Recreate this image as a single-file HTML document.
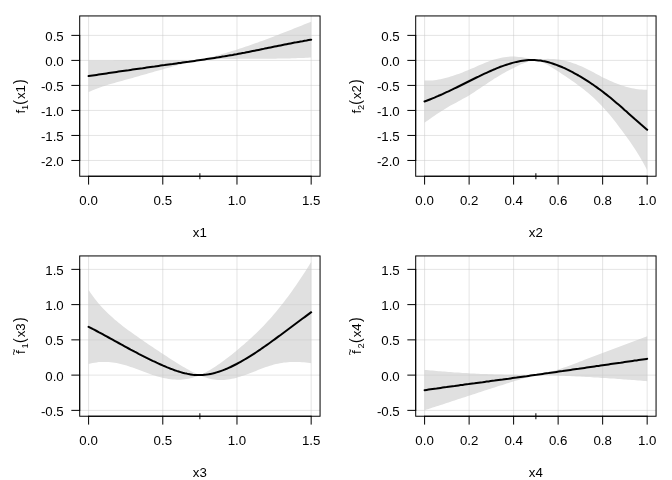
<!DOCTYPE html>
<html><head><meta charset="utf-8"><title>plot</title>
<style>html,body{margin:0;padding:0;background:#fff}svg{display:block}</style></head>
<body>
<svg width="672" height="480" viewBox="0 0 672 480" font-family="'Liberation Sans', Arial, Helvetica, sans-serif" font-size="13.28px" fill="#000">
<rect width="672" height="480" fill="#fff"/>
<path d="M88.6 60.4 L90.6 60.4 L92.6 60.4 L94.6 60.4 L96.6 60.4 L98.6 60.4 L100.6 60.4 L102.6 60.4 L104.6 60.4 L106.6 60.4 L108.6 60.4 L110.6 60.4 L112.6 60.4 L114.6 60.3 L116.6 60.3 L118.6 60.3 L120.6 60.3 L122.6 60.3 L124.6 60.3 L126.6 60.3 L128.6 60.3 L130.6 60.3 L132.6 60.3 L134.6 60.3 L136.6 60.3 L138.6 60.3 L140.6 60.3 L142.6 60.3 L144.6 60.3 L146.6 60.3 L148.6 60.3 L150.6 60.3 L152.6 60.3 L154.6 60.3 L156.6 60.3 L158.6 60.3 L160.6 60.3 L162.6 60.3 L164.6 60.3 L166.6 60.3 L168.6 60.3 L170.6 60.3 L172.6 60.3 L174.6 60.3 L176.6 60.3 L178.6 60.3 L180.6 60.3 L182.6 60.3 L184.6 60.3 L186.6 60.3 L188.6 60.2 L190.6 60.2 L192.6 60.2 L194.6 60.2 L196.6 60.2 L198.6 60.2 L199.9 60.1 L201.9 59.6 L203.9 59.1 L205.9 58.6 L207.9 58.0 L209.9 57.5 L211.9 56.9 L213.9 56.4 L215.9 55.8 L217.9 55.3 L219.9 54.7 L221.9 54.1 L223.9 53.5 L225.9 52.9 L227.9 52.3 L229.9 51.7 L231.9 51.1 L233.9 50.5 L235.9 49.9 L237.9 49.2 L239.9 48.6 L241.9 47.9 L243.9 47.3 L245.9 46.6 L247.9 45.9 L249.9 45.2 L251.9 44.5 L253.9 43.8 L255.9 43.1 L257.9 42.4 L259.9 41.6 L261.9 40.9 L263.9 40.2 L265.9 39.4 L267.9 38.7 L269.9 37.9 L271.9 37.2 L273.9 36.4 L275.9 35.6 L277.9 34.9 L279.9 34.1 L281.9 33.3 L283.9 32.5 L285.9 31.7 L287.9 31.0 L289.9 30.2 L291.9 29.4 L293.9 28.6 L295.9 27.8 L297.9 27.0 L299.9 26.2 L301.9 25.4 L303.9 24.6 L305.9 23.8 L307.9 23.0 L309.9 22.2 L311.2 21.7 L311.2 57.5 L309.9 57.5 L307.9 57.7 L305.9 57.8 L303.9 57.9 L301.9 58.0 L299.9 58.0 L297.9 58.1 L295.9 58.2 L293.9 58.3 L291.9 58.3 L289.9 58.4 L287.9 58.4 L285.9 58.5 L283.9 58.5 L281.9 58.6 L279.9 58.6 L277.9 58.6 L275.9 58.7 L273.9 58.7 L271.9 58.7 L269.9 58.7 L267.9 58.7 L265.9 58.8 L263.9 58.8 L261.9 58.8 L259.9 58.8 L257.9 58.8 L255.9 58.8 L253.9 58.8 L251.9 58.8 L249.9 58.8 L247.9 58.8 L245.9 58.8 L243.9 58.8 L241.9 58.8 L239.9 58.8 L237.9 58.8 L235.9 58.9 L233.9 58.9 L231.9 58.9 L229.9 58.9 L227.9 58.9 L225.9 58.9 L223.9 59.0 L221.9 59.0 L219.9 59.1 L217.9 59.1 L215.9 59.2 L213.9 59.3 L211.9 59.3 L209.9 59.4 L207.9 59.6 L205.9 59.7 L203.9 59.8 L201.9 60.0 L199.9 60.1 L198.6 60.4 L196.6 60.8 L194.6 61.3 L192.6 61.7 L190.6 62.1 L188.6 62.6 L186.6 63.1 L184.6 63.6 L182.6 64.1 L180.6 64.6 L178.6 65.1 L176.6 65.6 L174.6 66.1 L172.6 66.6 L170.6 67.2 L168.6 67.7 L166.6 68.3 L164.6 68.8 L162.6 69.4 L160.6 69.9 L158.6 70.5 L156.6 71.1 L154.6 71.6 L152.6 72.2 L150.6 72.8 L148.6 73.3 L146.6 73.9 L144.6 74.5 L142.6 75.1 L140.6 75.6 L138.6 76.2 L136.6 76.8 L134.6 77.3 L132.6 77.9 L130.6 78.5 L128.6 79.0 L126.6 79.6 L124.6 80.1 L122.6 80.7 L120.6 81.2 L118.6 81.8 L116.6 82.3 L114.6 82.9 L112.6 83.4 L110.6 84.0 L108.6 84.6 L106.6 85.2 L104.6 85.9 L102.6 86.5 L100.6 87.2 L98.6 88.0 L96.6 88.7 L94.6 89.5 L92.6 90.3 L90.6 91.2 L88.6 92.1Z" fill="#e0e0e0" stroke="none"/>
<g stroke="#c8c8c8" stroke-width="0.5" fill="none"><line x1="88.60" y1="15.94" x2="88.60" y2="176.24"/><line x1="162.79" y1="15.94" x2="162.79" y2="176.24"/><line x1="236.97" y1="15.94" x2="236.97" y2="176.24"/><line x1="311.16" y1="15.94" x2="311.16" y2="176.24"/><line x1="79.70" y1="35.38" x2="320.06" y2="35.38"/><line x1="79.70" y1="60.40" x2="320.06" y2="60.40"/><line x1="79.70" y1="85.41" x2="320.06" y2="85.41"/><line x1="79.70" y1="110.43" x2="320.06" y2="110.43"/><line x1="79.70" y1="135.44" x2="320.06" y2="135.44"/><line x1="79.70" y1="160.46" x2="320.06" y2="160.46"/></g>
<path d="M88.6 76.1 L90.6 75.8 L92.6 75.5 L94.6 75.2 L96.6 74.9 L98.6 74.6 L100.6 74.3 L102.6 74.0 L104.6 73.7 L106.6 73.4 L108.6 73.1 L110.6 72.8 L112.6 72.5 L114.6 72.2 L116.6 71.9 L118.6 71.6 L120.6 71.3 L122.6 71.0 L124.6 70.7 L126.6 70.4 L128.6 70.2 L130.6 69.9 L132.6 69.6 L134.6 69.3 L136.6 69.0 L138.6 68.7 L140.6 68.4 L142.6 68.2 L144.6 67.9 L146.6 67.6 L148.6 67.3 L150.6 67.0 L152.6 66.7 L154.6 66.5 L156.6 66.2 L158.6 65.9 L160.6 65.6 L162.6 65.3 L164.6 65.1 L166.6 64.8 L168.6 64.5 L170.6 64.2 L172.6 64.0 L174.6 63.7 L176.6 63.4 L178.6 63.1 L180.6 62.9 L182.6 62.6 L184.6 62.3 L186.6 62.0 L188.6 61.8 L190.6 61.5 L192.6 61.2 L194.6 60.9 L196.6 60.6 L198.6 60.3 L200.6 60.0 L202.6 59.7 L204.6 59.4 L206.6 59.1 L208.6 58.8 L210.6 58.5 L212.6 58.2 L214.6 57.9 L216.6 57.6 L218.6 57.3 L220.6 56.9 L222.6 56.6 L224.6 56.3 L226.6 55.9 L228.6 55.6 L230.6 55.2 L232.6 54.9 L234.6 54.5 L236.6 54.2 L238.6 53.8 L240.6 53.4 L242.6 53.0 L244.6 52.7 L246.6 52.3 L248.6 51.9 L250.6 51.5 L252.6 51.1 L254.6 50.7 L256.6 50.3 L258.6 49.9 L260.6 49.5 L262.6 49.1 L264.6 48.6 L266.6 48.2 L268.6 47.8 L270.6 47.4 L272.6 47.0 L274.6 46.6 L276.6 46.2 L278.6 45.8 L280.6 45.4 L282.6 45.0 L284.6 44.6 L286.6 44.2 L288.6 43.8 L290.6 43.4 L292.6 43.0 L294.6 42.6 L296.6 42.3 L298.6 41.9 L300.6 41.5 L302.6 41.2 L304.6 40.8 L306.6 40.5 L308.6 40.1 L310.6 39.8 L311.2 39.7" fill="none" stroke="#000" stroke-width="2" stroke-linecap="round" stroke-linejoin="round"/>
<line x1="199.88" y1="173.24" x2="199.88" y2="179.24" stroke="#000" stroke-width="1"/>
<rect x="79.70" y="15.94" width="240.36" height="160.30" fill="none" stroke="#000" stroke-width="1"/>
<g stroke="#000" stroke-width="1" fill="none" stroke-linecap="round"><line x1="88.60" y1="176.24" x2="311.16" y2="176.24"/><line x1="88.60" y1="176.24" x2="88.60" y2="184.21"/><line x1="162.79" y1="176.24" x2="162.79" y2="184.21"/><line x1="236.97" y1="176.24" x2="236.97" y2="184.21"/><line x1="311.16" y1="176.24" x2="311.16" y2="184.21"/><line x1="79.70" y1="35.38" x2="79.70" y2="160.46"/><line x1="79.70" y1="35.38" x2="71.73" y2="35.38"/><line x1="79.70" y1="60.40" x2="71.73" y2="60.40"/><line x1="79.70" y1="85.41" x2="71.73" y2="85.41"/><line x1="79.70" y1="110.43" x2="71.73" y2="110.43"/><line x1="79.70" y1="135.44" x2="71.73" y2="135.44"/><line x1="79.70" y1="160.46" x2="71.73" y2="160.46"/></g>
<text x="88.60" y="204.93" text-anchor="middle">0.0</text>
<text x="162.79" y="204.93" text-anchor="middle">0.5</text>
<text x="236.97" y="204.93" text-anchor="middle">1.0</text>
<text x="311.16" y="204.93" text-anchor="middle">1.5</text>
<text x="63.76" y="40.84" text-anchor="end">0.5</text>
<text x="63.76" y="65.85" text-anchor="end">0.0</text>
<text x="63.76" y="90.86" text-anchor="end">-0.5</text>
<text x="63.76" y="115.88" text-anchor="end">-1.0</text>
<text x="63.76" y="140.89" text-anchor="end">-1.5</text>
<text x="63.76" y="165.91" text-anchor="end">-2.0</text>
<text x="199.88" y="236.81" text-anchor="middle">x1</text>
<g transform="translate(25.30 113.49) rotate(-90)"><text x="-0.10" y="0">f</text><text x="3.60" y="2.5" font-size="9.30px">1</text><text transform="translate(8.80 0) scale(0.85 1)" font-size="16.5px">(</text><text x="14.40" y="0">x1</text><text transform="translate(29.60 0) scale(0.85 1)" font-size="16.5px">)</text></g>
<path d="M424.5 80.4 L426.5 80.5 L428.5 80.6 L430.5 80.5 L432.5 80.4 L434.5 80.2 L436.5 79.9 L438.5 79.6 L440.5 79.2 L442.5 78.7 L444.5 78.2 L446.5 77.7 L448.5 77.2 L450.5 76.6 L452.5 75.9 L454.5 75.3 L456.5 74.6 L458.5 73.9 L460.5 73.2 L462.5 72.4 L464.5 71.6 L466.5 70.8 L468.5 70.0 L470.5 69.1 L472.5 68.3 L474.5 67.4 L476.5 66.5 L478.5 65.6 L480.5 64.8 L482.5 63.9 L484.5 63.1 L486.5 62.3 L488.5 61.5 L490.5 60.8 L492.5 60.1 L494.5 59.5 L496.5 59.0 L498.5 58.4 L500.5 58.0 L502.5 57.6 L504.5 57.3 L506.5 57.0 L508.5 56.8 L510.5 56.6 L512.5 56.6 L514.5 56.6 L516.5 56.7 L518.5 56.9 L520.5 57.1 L522.5 57.3 L524.5 57.7 L526.5 58.0 L528.5 58.4 L530.5 58.9 L532.5 59.3 L534.5 59.8 L535.9 60.2 L537.9 59.8 L539.9 59.4 L541.9 59.2 L543.9 59.0 L545.9 58.9 L547.9 58.8 L549.9 58.9 L551.9 58.9 L553.9 59.1 L555.9 59.3 L557.9 59.5 L559.9 59.8 L561.9 60.2 L563.9 60.6 L565.9 61.0 L567.9 61.5 L569.9 62.1 L571.9 62.7 L573.9 63.4 L575.9 64.1 L577.9 64.9 L579.9 65.7 L581.9 66.6 L583.9 67.5 L585.9 68.5 L587.9 69.5 L589.9 70.5 L591.9 71.6 L593.9 72.6 L595.9 73.7 L597.9 74.8 L599.9 75.8 L601.9 76.9 L603.9 77.9 L605.9 78.8 L607.9 79.8 L609.9 80.7 L611.9 81.6 L613.9 82.4 L615.9 83.2 L617.9 84.0 L619.9 84.7 L621.9 85.4 L623.9 86.1 L625.9 86.7 L627.9 87.2 L629.9 87.7 L631.9 88.2 L633.9 88.6 L635.9 88.9 L637.9 89.2 L639.9 89.4 L641.9 89.6 L643.9 89.7 L645.9 89.8 L647.2 89.8 L647.2 170.4 L645.9 167.8 L643.9 164.1 L641.9 160.5 L639.9 157.0 L637.9 153.7 L635.9 150.6 L633.9 147.5 L631.9 144.5 L629.9 141.6 L627.9 138.8 L625.9 136.0 L623.9 133.3 L621.9 130.5 L619.9 127.9 L617.9 125.2 L615.9 122.6 L613.9 120.0 L611.9 117.5 L609.9 115.1 L607.9 112.7 L605.9 110.4 L603.9 108.2 L601.9 106.0 L599.9 104.0 L597.9 101.9 L595.9 100.0 L593.9 98.1 L591.9 96.3 L589.9 94.5 L587.9 92.8 L585.9 91.2 L583.9 89.5 L581.9 88.0 L579.9 86.5 L577.9 85.0 L575.9 83.5 L573.9 82.1 L571.9 80.7 L569.9 79.3 L567.9 77.9 L565.9 76.6 L563.9 75.3 L561.9 73.9 L559.9 72.6 L557.9 71.3 L555.9 70.0 L553.9 68.7 L551.9 67.5 L549.9 66.3 L547.9 65.1 L545.9 64.1 L543.9 63.1 L541.9 62.2 L539.9 61.4 L537.9 60.7 L535.9 60.2 L534.5 60.3 L532.5 60.7 L530.5 61.1 L528.5 61.6 L526.5 62.3 L524.5 63.0 L522.5 63.7 L520.5 64.6 L518.5 65.5 L516.5 66.4 L514.5 67.4 L512.5 68.4 L510.5 69.4 L508.5 70.5 L506.5 71.5 L504.5 72.7 L502.5 73.8 L500.5 75.0 L498.5 76.2 L496.5 77.4 L494.5 78.6 L492.5 79.9 L490.5 81.2 L488.5 82.5 L486.5 83.9 L484.5 85.2 L482.5 86.6 L480.5 87.9 L478.5 89.3 L476.5 90.6 L474.5 91.9 L472.5 93.2 L470.5 94.5 L468.5 95.7 L466.5 96.9 L464.5 98.0 L462.5 99.1 L460.5 100.2 L458.5 101.3 L456.5 102.4 L454.5 103.4 L452.5 104.5 L450.5 105.6 L448.5 106.8 L446.5 107.9 L444.5 109.2 L442.5 110.4 L440.5 111.7 L438.5 113.0 L436.5 114.3 L434.5 115.7 L432.5 117.1 L430.5 118.5 L428.5 119.9 L426.5 121.3 L424.5 122.7Z" fill="#e0e0e0" stroke="none"/>
<g stroke="#c8c8c8" stroke-width="0.5" fill="none"><line x1="424.60" y1="15.94" x2="424.60" y2="176.24"/><line x1="469.11" y1="15.94" x2="469.11" y2="176.24"/><line x1="513.62" y1="15.94" x2="513.62" y2="176.24"/><line x1="558.14" y1="15.94" x2="558.14" y2="176.24"/><line x1="602.65" y1="15.94" x2="602.65" y2="176.24"/><line x1="647.16" y1="15.94" x2="647.16" y2="176.24"/><line x1="415.70" y1="35.38" x2="656.06" y2="35.38"/><line x1="415.70" y1="60.40" x2="656.06" y2="60.40"/><line x1="415.70" y1="85.41" x2="656.06" y2="85.41"/><line x1="415.70" y1="110.43" x2="656.06" y2="110.43"/><line x1="415.70" y1="135.44" x2="656.06" y2="135.44"/><line x1="415.70" y1="160.46" x2="656.06" y2="160.46"/></g>
<path d="M424.5 101.5 L426.5 100.8 L428.5 100.0 L430.5 99.2 L432.5 98.4 L434.5 97.6 L436.5 96.7 L438.5 95.8 L440.5 95.0 L442.5 94.1 L444.5 93.1 L446.5 92.2 L448.5 91.3 L450.5 90.3 L452.5 89.4 L454.5 88.4 L456.5 87.5 L458.5 86.5 L460.5 85.5 L462.5 84.5 L464.5 83.5 L466.5 82.5 L468.5 81.5 L470.5 80.5 L472.5 79.5 L474.5 78.5 L476.5 77.5 L478.5 76.6 L480.5 75.6 L482.5 74.6 L484.5 73.7 L486.5 72.8 L488.5 71.9 L490.5 71.0 L492.5 70.1 L494.5 69.3 L496.5 68.4 L498.5 67.6 L500.5 66.8 L502.5 66.1 L504.5 65.4 L506.5 64.7 L508.5 64.1 L510.5 63.5 L512.5 62.9 L514.5 62.4 L516.5 61.9 L518.5 61.5 L520.5 61.1 L522.5 60.8 L524.5 60.5 L526.5 60.3 L528.5 60.1 L530.5 60.1 L532.5 60.0 L534.5 60.1 L536.5 60.2 L538.5 60.4 L540.5 60.6 L542.5 61.0 L544.5 61.3 L546.5 61.8 L548.5 62.3 L550.5 62.9 L552.5 63.5 L554.5 64.2 L556.5 64.9 L558.5 65.7 L560.5 66.5 L562.5 67.3 L564.5 68.2 L566.5 69.2 L568.5 70.1 L570.5 71.2 L572.5 72.2 L574.5 73.3 L576.5 74.4 L578.5 75.5 L580.5 76.7 L582.5 77.9 L584.5 79.1 L586.5 80.4 L588.5 81.7 L590.5 83.0 L592.5 84.3 L594.5 85.7 L596.5 87.1 L598.5 88.6 L600.5 90.0 L602.5 91.5 L604.5 93.1 L606.5 94.6 L608.5 96.2 L610.5 97.8 L612.5 99.5 L614.5 101.2 L616.5 102.9 L618.5 104.6 L620.5 106.3 L622.5 108.1 L624.5 109.9 L626.5 111.6 L628.5 113.4 L630.5 115.2 L632.5 117.0 L634.5 118.8 L636.5 120.5 L638.5 122.3 L640.5 124.1 L642.5 125.8 L644.5 127.5 L646.5 129.2 L647.2 129.8" fill="none" stroke="#000" stroke-width="2" stroke-linecap="round" stroke-linejoin="round"/>
<line x1="535.88" y1="173.24" x2="535.88" y2="179.24" stroke="#000" stroke-width="1"/>
<rect x="415.70" y="15.94" width="240.36" height="160.30" fill="none" stroke="#000" stroke-width="1"/>
<g stroke="#000" stroke-width="1" fill="none" stroke-linecap="round"><line x1="424.60" y1="176.24" x2="647.16" y2="176.24"/><line x1="424.60" y1="176.24" x2="424.60" y2="184.21"/><line x1="469.11" y1="176.24" x2="469.11" y2="184.21"/><line x1="513.62" y1="176.24" x2="513.62" y2="184.21"/><line x1="558.14" y1="176.24" x2="558.14" y2="184.21"/><line x1="602.65" y1="176.24" x2="602.65" y2="184.21"/><line x1="647.16" y1="176.24" x2="647.16" y2="184.21"/><line x1="415.70" y1="35.38" x2="415.70" y2="160.46"/><line x1="415.70" y1="35.38" x2="407.73" y2="35.38"/><line x1="415.70" y1="60.40" x2="407.73" y2="60.40"/><line x1="415.70" y1="85.41" x2="407.73" y2="85.41"/><line x1="415.70" y1="110.43" x2="407.73" y2="110.43"/><line x1="415.70" y1="135.44" x2="407.73" y2="135.44"/><line x1="415.70" y1="160.46" x2="407.73" y2="160.46"/></g>
<text x="424.60" y="204.93" text-anchor="middle">0.0</text>
<text x="469.11" y="204.93" text-anchor="middle">0.2</text>
<text x="513.62" y="204.93" text-anchor="middle">0.4</text>
<text x="558.14" y="204.93" text-anchor="middle">0.6</text>
<text x="602.65" y="204.93" text-anchor="middle">0.8</text>
<text x="647.16" y="204.93" text-anchor="middle">1.0</text>
<text x="399.76" y="40.84" text-anchor="end">0.5</text>
<text x="399.76" y="65.85" text-anchor="end">0.0</text>
<text x="399.76" y="90.86" text-anchor="end">-0.5</text>
<text x="399.76" y="115.88" text-anchor="end">-1.0</text>
<text x="399.76" y="140.89" text-anchor="end">-1.5</text>
<text x="399.76" y="165.91" text-anchor="end">-2.0</text>
<text x="535.88" y="236.81" text-anchor="middle">x2</text>
<g transform="translate(361.30 113.49) rotate(-90)"><text x="-0.10" y="0">f</text><text x="3.60" y="2.5" font-size="9.30px">2</text><text transform="translate(8.80 0) scale(0.85 1)" font-size="16.5px">(</text><text x="14.40" y="0">x2</text><text transform="translate(29.60 0) scale(0.85 1)" font-size="16.5px">)</text></g>
<path d="M88.6 290.1 L90.6 293.0 L92.6 295.8 L94.6 298.4 L96.6 301.0 L98.6 303.4 L100.6 305.7 L102.6 307.9 L104.6 310.0 L106.6 312.0 L108.6 314.0 L110.6 315.8 L112.6 317.6 L114.6 319.4 L116.6 321.1 L118.6 322.7 L120.6 324.3 L122.6 325.9 L124.6 327.4 L126.6 328.9 L128.6 330.4 L130.6 331.8 L132.6 333.3 L134.6 334.7 L136.6 336.1 L138.6 337.5 L140.6 338.9 L142.6 340.3 L144.6 341.7 L146.6 343.0 L148.6 344.4 L150.6 345.7 L152.6 347.1 L154.6 348.4 L156.6 349.7 L158.6 351.0 L160.6 352.4 L162.6 353.7 L164.6 355.0 L166.6 356.3 L168.6 357.7 L170.6 359.0 L172.6 360.3 L174.6 361.5 L176.6 362.8 L178.6 364.0 L180.6 365.3 L182.6 366.5 L184.6 367.6 L186.6 368.7 L188.6 369.8 L190.6 370.9 L192.6 371.9 L194.6 372.8 L196.6 373.7 L198.6 374.6 L199.9 375.1 L201.9 374.2 L203.9 373.2 L205.9 372.2 L207.9 371.1 L209.9 369.9 L211.9 368.7 L213.9 367.5 L215.9 366.2 L217.9 364.8 L219.9 363.5 L221.9 362.0 L223.9 360.6 L225.9 359.1 L227.9 357.6 L229.9 356.0 L231.9 354.4 L233.9 352.8 L235.9 351.2 L237.9 349.5 L239.9 347.8 L241.9 346.1 L243.9 344.4 L245.9 342.6 L247.9 340.9 L249.9 339.1 L251.9 337.2 L253.9 335.3 L255.9 333.4 L257.9 331.5 L259.9 329.5 L261.9 327.5 L263.9 325.4 L265.9 323.3 L267.9 321.1 L269.9 318.9 L271.9 316.7 L273.9 314.3 L275.9 312.0 L277.9 309.6 L279.9 307.1 L281.9 304.6 L283.9 302.0 L285.9 299.3 L287.9 296.7 L289.9 293.9 L291.9 291.2 L293.9 288.3 L295.9 285.5 L297.9 282.6 L299.9 279.6 L301.9 276.6 L303.9 273.5 L305.9 270.4 L307.9 267.3 L309.9 264.1 L311.2 262.0 L311.2 363.3 L309.9 363.1 L307.9 362.8 L305.9 362.5 L303.9 362.3 L301.9 362.2 L299.9 362.1 L297.9 362.0 L295.9 361.9 L293.9 361.9 L291.9 362.0 L289.9 362.1 L287.9 362.2 L285.9 362.4 L283.9 362.6 L281.9 362.9 L279.9 363.3 L277.9 363.7 L275.9 364.1 L273.9 364.6 L271.9 365.2 L269.9 365.8 L267.9 366.4 L265.9 367.1 L263.9 367.8 L261.9 368.5 L259.9 369.3 L257.9 370.1 L255.9 370.9 L253.9 371.7 L251.9 372.4 L249.9 373.2 L247.9 374.0 L245.9 374.7 L243.9 375.4 L241.9 376.1 L239.9 376.7 L237.9 377.3 L235.9 377.9 L233.9 378.4 L231.9 378.8 L229.9 379.2 L227.9 379.5 L225.9 379.7 L223.9 379.9 L221.9 380.0 L219.9 380.0 L217.9 379.9 L215.9 379.8 L213.9 379.5 L211.9 379.2 L209.9 378.8 L207.9 378.2 L205.9 377.6 L203.9 376.9 L201.9 376.0 L199.9 375.1 L198.6 375.7 L196.6 376.4 L194.6 377.1 L192.6 377.7 L190.6 378.3 L188.6 378.7 L186.6 379.1 L184.6 379.3 L182.6 379.5 L180.6 379.7 L178.6 379.7 L176.6 379.7 L174.6 379.6 L172.6 379.5 L170.6 379.3 L168.6 379.0 L166.6 378.6 L164.6 378.2 L162.6 377.8 L160.6 377.3 L158.6 376.7 L156.6 376.2 L154.6 375.5 L152.6 374.9 L150.6 374.2 L148.6 373.5 L146.6 372.7 L144.6 372.0 L142.6 371.2 L140.6 370.5 L138.6 369.7 L136.6 369.0 L134.6 368.3 L132.6 367.6 L130.6 366.9 L128.6 366.2 L126.6 365.6 L124.6 365.0 L122.6 364.5 L120.6 364.0 L118.6 363.5 L116.6 363.1 L114.6 362.7 L112.6 362.4 L110.6 362.2 L108.6 362.0 L106.6 361.9 L104.6 361.9 L102.6 361.9 L100.6 362.0 L98.6 362.1 L96.6 362.4 L94.6 362.7 L92.6 363.1 L90.6 363.6 L88.6 364.1Z" fill="#e0e0e0" stroke="none"/>
<g stroke="#c8c8c8" stroke-width="0.5" fill="none"><line x1="88.60" y1="255.94" x2="88.60" y2="416.24"/><line x1="162.79" y1="255.94" x2="162.79" y2="416.24"/><line x1="236.97" y1="255.94" x2="236.97" y2="416.24"/><line x1="311.16" y1="255.94" x2="311.16" y2="416.24"/><line x1="79.70" y1="269.37" x2="320.06" y2="269.37"/><line x1="79.70" y1="304.62" x2="320.06" y2="304.62"/><line x1="79.70" y1="339.87" x2="320.06" y2="339.87"/><line x1="79.70" y1="375.12" x2="320.06" y2="375.12"/><line x1="79.70" y1="410.37" x2="320.06" y2="410.37"/></g>
<path d="M88.6 326.8 L90.6 327.8 L92.6 328.9 L94.6 329.9 L96.6 331.0 L98.6 332.1 L100.6 333.1 L102.6 334.2 L104.6 335.3 L106.6 336.4 L108.6 337.5 L110.6 338.6 L112.6 339.7 L114.6 340.8 L116.6 341.9 L118.6 343.0 L120.6 344.1 L122.6 345.2 L124.6 346.3 L126.6 347.4 L128.6 348.5 L130.6 349.6 L132.6 350.6 L134.6 351.7 L136.6 352.7 L138.6 353.8 L140.6 354.8 L142.6 355.8 L144.6 356.8 L146.6 357.8 L148.6 358.8 L150.6 359.8 L152.6 360.8 L154.6 361.7 L156.6 362.7 L158.6 363.6 L160.6 364.5 L162.6 365.4 L164.6 366.2 L166.6 367.1 L168.6 367.9 L170.6 368.7 L172.6 369.4 L174.6 370.2 L176.6 370.9 L178.6 371.5 L180.6 372.1 L182.6 372.7 L184.6 373.2 L186.6 373.6 L188.6 374.1 L190.6 374.4 L192.6 374.7 L194.6 374.9 L196.6 375.0 L198.6 375.1 L200.6 375.1 L202.6 375.0 L204.6 374.8 L206.6 374.6 L208.6 374.3 L210.6 373.9 L212.6 373.5 L214.6 373.0 L216.6 372.4 L218.6 371.8 L220.6 371.1 L222.6 370.4 L224.6 369.6 L226.6 368.8 L228.6 367.9 L230.6 367.0 L232.6 366.0 L234.6 365.0 L236.6 364.0 L238.6 362.9 L240.6 361.8 L242.6 360.7 L244.6 359.5 L246.6 358.3 L248.6 357.1 L250.6 355.9 L252.6 354.6 L254.6 353.3 L256.6 352.0 L258.6 350.6 L260.6 349.3 L262.6 347.9 L264.6 346.5 L266.6 345.1 L268.6 343.7 L270.6 342.3 L272.6 340.8 L274.6 339.4 L276.6 337.9 L278.6 336.4 L280.6 335.0 L282.6 333.5 L284.6 332.0 L286.6 330.5 L288.6 329.0 L290.6 327.5 L292.6 326.0 L294.6 324.5 L296.6 323.0 L298.6 321.5 L300.6 320.0 L302.6 318.5 L304.6 317.1 L306.6 315.6 L308.6 314.1 L310.6 312.6 L311.2 312.2" fill="none" stroke="#000" stroke-width="2" stroke-linecap="round" stroke-linejoin="round"/>
<line x1="199.88" y1="413.24" x2="199.88" y2="419.24" stroke="#000" stroke-width="1"/>
<rect x="79.70" y="255.94" width="240.36" height="160.30" fill="none" stroke="#000" stroke-width="1"/>
<g stroke="#000" stroke-width="1" fill="none" stroke-linecap="round"><line x1="88.60" y1="416.24" x2="311.16" y2="416.24"/><line x1="88.60" y1="416.24" x2="88.60" y2="424.21"/><line x1="162.79" y1="416.24" x2="162.79" y2="424.21"/><line x1="236.97" y1="416.24" x2="236.97" y2="424.21"/><line x1="311.16" y1="416.24" x2="311.16" y2="424.21"/><line x1="79.70" y1="269.37" x2="79.70" y2="410.37"/><line x1="79.70" y1="269.37" x2="71.73" y2="269.37"/><line x1="79.70" y1="304.62" x2="71.73" y2="304.62"/><line x1="79.70" y1="339.87" x2="71.73" y2="339.87"/><line x1="79.70" y1="375.12" x2="71.73" y2="375.12"/><line x1="79.70" y1="410.37" x2="71.73" y2="410.37"/></g>
<text x="88.60" y="444.93" text-anchor="middle">0.0</text>
<text x="162.79" y="444.93" text-anchor="middle">0.5</text>
<text x="236.97" y="444.93" text-anchor="middle">1.0</text>
<text x="311.16" y="444.93" text-anchor="middle">1.5</text>
<text x="63.76" y="274.82" text-anchor="end">1.5</text>
<text x="63.76" y="310.07" text-anchor="end">1.0</text>
<text x="63.76" y="345.32" text-anchor="end">0.5</text>
<text x="63.76" y="380.57" text-anchor="end">0.0</text>
<text x="63.76" y="415.82" text-anchor="end">-0.5</text>
<text x="199.88" y="476.81" text-anchor="middle">x3</text>
<g transform="translate(25.30 355.19) rotate(-90)"><text x="-0.4" y="-7.7" font-size="11.7px">~</text><text x="1.20" y="0">f</text><text x="6.70" y="2.5" font-size="9.30px">1</text><text transform="translate(12.30 0) scale(0.85 1)" font-size="16.5px">(</text><text x="17.90" y="0">x3</text><text transform="translate(33.10 0) scale(0.85 1)" font-size="16.5px">)</text></g>
<path d="M424.6 369.9 L426.6 370.1 L428.6 370.3 L430.6 370.5 L432.6 370.6 L434.6 370.8 L436.6 371.0 L438.6 371.2 L440.6 371.3 L442.6 371.5 L444.6 371.6 L446.6 371.8 L448.6 371.9 L450.6 372.1 L452.6 372.2 L454.6 372.4 L456.6 372.5 L458.6 372.6 L460.6 372.8 L462.6 372.9 L464.6 373.0 L466.6 373.1 L468.6 373.3 L470.6 373.4 L472.6 373.5 L474.6 373.6 L476.6 373.7 L478.6 373.8 L480.6 373.9 L482.6 374.0 L484.6 374.0 L486.6 374.1 L488.6 374.2 L490.6 374.3 L492.6 374.3 L494.6 374.4 L496.6 374.5 L498.6 374.5 L500.6 374.6 L502.6 374.6 L504.6 374.7 L506.6 374.7 L508.6 374.7 L510.6 374.8 L512.6 374.8 L514.6 374.8 L516.6 374.8 L518.6 374.9 L520.6 374.9 L522.6 374.9 L524.6 374.9 L526.6 374.9 L528.6 374.9 L530.6 374.9 L532.6 374.9 L534.6 374.9 L535.9 374.9 L537.9 374.5 L539.9 374.2 L541.9 373.8 L543.9 373.4 L545.9 372.9 L547.9 372.4 L549.9 371.9 L551.9 371.4 L553.9 370.8 L555.9 370.2 L557.9 369.6 L559.9 368.9 L561.9 368.3 L563.9 367.6 L565.9 366.9 L567.9 366.2 L569.9 365.4 L571.9 364.7 L573.9 363.9 L575.9 363.2 L577.9 362.4 L579.9 361.6 L581.9 360.9 L583.9 360.1 L585.9 359.3 L587.9 358.5 L589.9 357.7 L591.9 357.0 L593.9 356.2 L595.9 355.4 L597.9 354.7 L599.9 353.9 L601.9 353.2 L603.9 352.4 L605.9 351.7 L607.9 350.9 L609.9 350.2 L611.9 349.4 L613.9 348.7 L615.9 348.0 L617.9 347.2 L619.9 346.5 L621.9 345.7 L623.9 345.0 L625.9 344.3 L627.9 343.5 L629.9 342.8 L631.9 342.0 L633.9 341.3 L635.9 340.5 L637.9 339.8 L639.9 339.0 L641.9 338.2 L643.9 337.5 L645.9 336.7 L647.2 336.2 L647.2 381.2 L645.9 381.1 L643.9 380.9 L641.9 380.8 L639.9 380.6 L637.9 380.4 L635.9 380.3 L633.9 380.1 L631.9 380.0 L629.9 379.8 L627.9 379.7 L625.9 379.5 L623.9 379.4 L621.9 379.2 L619.9 379.1 L617.9 378.9 L615.9 378.8 L613.9 378.6 L611.9 378.5 L609.9 378.4 L607.9 378.2 L605.9 378.1 L603.9 378.0 L601.9 377.9 L599.9 377.7 L597.9 377.6 L595.9 377.5 L593.9 377.4 L591.9 377.2 L589.9 377.1 L587.9 377.0 L585.9 376.9 L583.9 376.8 L581.9 376.7 L579.9 376.6 L577.9 376.5 L575.9 376.4 L573.9 376.3 L571.9 376.2 L569.9 376.1 L567.9 376.0 L565.9 375.9 L563.9 375.8 L561.9 375.7 L559.9 375.7 L557.9 375.6 L555.9 375.5 L553.9 375.4 L551.9 375.3 L549.9 375.3 L547.9 375.2 L545.9 375.1 L543.9 375.1 L541.9 375.0 L539.9 375.0 L537.9 374.9 L535.9 374.9 L534.6 375.2 L532.6 375.8 L530.6 376.4 L528.6 376.9 L526.6 377.5 L524.6 378.1 L522.6 378.7 L520.6 379.3 L518.6 379.9 L516.6 380.5 L514.6 381.1 L512.6 381.7 L510.6 382.3 L508.6 383.0 L506.6 383.6 L504.6 384.2 L502.6 384.9 L500.6 385.5 L498.6 386.1 L496.6 386.8 L494.6 387.4 L492.6 388.0 L490.6 388.7 L488.6 389.3 L486.6 390.0 L484.6 390.6 L482.6 391.3 L480.6 391.9 L478.6 392.6 L476.6 393.2 L474.6 393.9 L472.6 394.5 L470.6 395.2 L468.6 395.8 L466.6 396.5 L464.6 397.2 L462.6 397.8 L460.6 398.5 L458.6 399.1 L456.6 399.8 L454.6 400.4 L452.6 401.1 L450.6 401.8 L448.6 402.4 L446.6 403.1 L444.6 403.7 L442.6 404.4 L440.6 405.0 L438.6 405.7 L436.6 406.3 L434.6 407.0 L432.6 407.6 L430.6 408.3 L428.6 408.9 L426.6 409.5 L424.6 410.2Z" fill="#e0e0e0" stroke="none"/>
<g stroke="#c8c8c8" stroke-width="0.5" fill="none"><line x1="424.60" y1="255.94" x2="424.60" y2="416.24"/><line x1="469.11" y1="255.94" x2="469.11" y2="416.24"/><line x1="513.62" y1="255.94" x2="513.62" y2="416.24"/><line x1="558.14" y1="255.94" x2="558.14" y2="416.24"/><line x1="602.65" y1="255.94" x2="602.65" y2="416.24"/><line x1="647.16" y1="255.94" x2="647.16" y2="416.24"/><line x1="415.70" y1="269.37" x2="656.06" y2="269.37"/><line x1="415.70" y1="304.62" x2="656.06" y2="304.62"/><line x1="415.70" y1="339.87" x2="656.06" y2="339.87"/><line x1="415.70" y1="375.12" x2="656.06" y2="375.12"/><line x1="415.70" y1="410.37" x2="656.06" y2="410.37"/></g>
<path d="M424.6 390.2 L426.6 389.9 L428.6 389.6 L430.6 389.3 L432.6 389.0 L434.6 388.7 L436.6 388.5 L438.6 388.2 L440.6 387.9 L442.6 387.6 L444.6 387.3 L446.6 387.1 L448.6 386.8 L450.6 386.5 L452.6 386.2 L454.6 386.0 L456.6 385.7 L458.6 385.4 L460.6 385.1 L462.6 384.9 L464.6 384.6 L466.6 384.3 L468.6 384.1 L470.6 383.8 L472.6 383.5 L474.6 383.3 L476.6 383.0 L478.6 382.7 L480.6 382.4 L482.6 382.2 L484.6 381.9 L486.6 381.6 L488.6 381.4 L490.6 381.1 L492.6 380.8 L494.6 380.6 L496.6 380.3 L498.6 380.0 L500.6 379.7 L502.6 379.5 L504.6 379.2 L506.6 378.9 L508.6 378.7 L510.6 378.4 L512.6 378.1 L514.6 377.8 L516.6 377.6 L518.6 377.3 L520.6 377.0 L522.6 376.7 L524.6 376.4 L526.6 376.2 L528.6 375.9 L530.6 375.6 L532.6 375.3 L534.6 375.0 L536.6 374.8 L538.6 374.5 L540.6 374.2 L542.6 373.9 L544.6 373.6 L546.6 373.3 L548.6 373.1 L550.6 372.8 L552.6 372.5 L554.6 372.2 L556.6 371.9 L558.6 371.6 L560.6 371.3 L562.6 371.1 L564.6 370.8 L566.6 370.5 L568.6 370.2 L570.6 369.9 L572.6 369.6 L574.6 369.3 L576.6 369.0 L578.6 368.8 L580.6 368.5 L582.6 368.2 L584.6 367.9 L586.6 367.6 L588.6 367.3 L590.6 367.0 L592.6 366.7 L594.6 366.4 L596.6 366.1 L598.6 365.9 L600.6 365.6 L602.6 365.3 L604.6 365.0 L606.6 364.7 L608.6 364.4 L610.6 364.1 L612.6 363.8 L614.6 363.5 L616.6 363.2 L618.6 362.9 L620.6 362.7 L622.6 362.4 L624.6 362.1 L626.6 361.8 L628.6 361.5 L630.6 361.2 L632.6 360.9 L634.6 360.6 L636.6 360.4 L638.6 360.1 L640.6 359.8 L642.6 359.5 L644.6 359.2 L646.6 358.9 L647.2 358.8" fill="none" stroke="#000" stroke-width="2" stroke-linecap="round" stroke-linejoin="round"/>
<line x1="535.88" y1="413.24" x2="535.88" y2="419.24" stroke="#000" stroke-width="1"/>
<rect x="415.70" y="255.94" width="240.36" height="160.30" fill="none" stroke="#000" stroke-width="1"/>
<g stroke="#000" stroke-width="1" fill="none" stroke-linecap="round"><line x1="424.60" y1="416.24" x2="647.16" y2="416.24"/><line x1="424.60" y1="416.24" x2="424.60" y2="424.21"/><line x1="469.11" y1="416.24" x2="469.11" y2="424.21"/><line x1="513.62" y1="416.24" x2="513.62" y2="424.21"/><line x1="558.14" y1="416.24" x2="558.14" y2="424.21"/><line x1="602.65" y1="416.24" x2="602.65" y2="424.21"/><line x1="647.16" y1="416.24" x2="647.16" y2="424.21"/><line x1="415.70" y1="269.37" x2="415.70" y2="410.37"/><line x1="415.70" y1="269.37" x2="407.73" y2="269.37"/><line x1="415.70" y1="304.62" x2="407.73" y2="304.62"/><line x1="415.70" y1="339.87" x2="407.73" y2="339.87"/><line x1="415.70" y1="375.12" x2="407.73" y2="375.12"/><line x1="415.70" y1="410.37" x2="407.73" y2="410.37"/></g>
<text x="424.60" y="444.93" text-anchor="middle">0.0</text>
<text x="469.11" y="444.93" text-anchor="middle">0.2</text>
<text x="513.62" y="444.93" text-anchor="middle">0.4</text>
<text x="558.14" y="444.93" text-anchor="middle">0.6</text>
<text x="602.65" y="444.93" text-anchor="middle">0.8</text>
<text x="647.16" y="444.93" text-anchor="middle">1.0</text>
<text x="399.76" y="274.82" text-anchor="end">1.5</text>
<text x="399.76" y="310.07" text-anchor="end">1.0</text>
<text x="399.76" y="345.32" text-anchor="end">0.5</text>
<text x="399.76" y="380.57" text-anchor="end">0.0</text>
<text x="399.76" y="415.82" text-anchor="end">-0.5</text>
<text x="535.88" y="476.81" text-anchor="middle">x4</text>
<g transform="translate(361.30 355.19) rotate(-90)"><text x="-0.4" y="-7.7" font-size="11.7px">~</text><text x="1.20" y="0">f</text><text x="6.70" y="2.5" font-size="9.30px">2</text><text transform="translate(12.30 0) scale(0.85 1)" font-size="16.5px">(</text><text x="17.90" y="0">x4</text><text transform="translate(33.10 0) scale(0.85 1)" font-size="16.5px">)</text></g>
</svg>
</body></html>
